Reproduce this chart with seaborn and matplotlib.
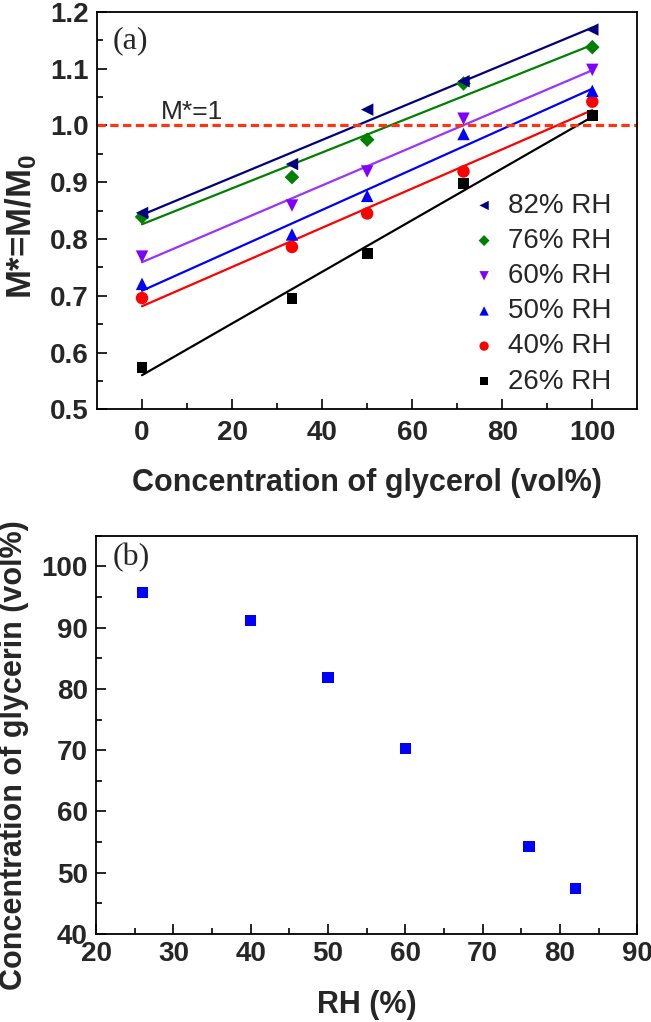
import numpy as np
import pandas as pd
import matplotlib
matplotlib.use("Agg")
import matplotlib.pyplot as plt
import seaborn as sns

# ---- data ----
glycerol = [0, 33.3, 50, 71.4, 100]
rh_labels = ["26% RH", "40% RH", "50% RH", "60% RH", "76% RH", "82% RH"]
m_26 = [0.574, 0.695, 0.775, 0.898, 1.018]
m_40 = [0.696, 0.786, 0.845, 0.919, 1.042]
m_50 = [0.721, 0.808, 0.876, 0.985, 1.061]
m_60 = [0.769, 0.859, 0.919, 1.012, 1.098]
m_76 = [0.839, 0.909, 0.975, 1.074, 1.138]
m_82 = [0.846, 0.932, 1.028, 1.078, 1.169]

rh_b = [26, 40, 50, 60, 76, 82]
glycerin_b = [95.8, 91.2, 81.9, 70.3, 54.3, 47.4]

series = [m_26, m_40, m_50, m_60, m_76, m_82]
marker_list = ["s", "o", "^", "v", "D", "<"]
marker_sizes = [60, 80, 80, 80, 55, 80]
point_colors = ["#000000", "#FF0000", "#0000FF", "#8000FF", "#008000", "#000080"]
line_colors = ["#000000", "#FF0000", "#0000FF", "#9933FF", "#008000", "#000080"]

sns.set_theme(style="ticks")
plt.rcParams["font.family"] = ["Liberation Sans", "DejaVu Sans"]
plt.rcParams["mathtext.default"] = "regular"
plt.rcParams["axes.linewidth"] = 1.3

fig = plt.figure(figsize=(6.51, 10.22), dpi=100)
ax1 = fig.add_axes([0.149, 0.5995, 0.830, 0.3888])
ax2 = fig.add_axes([0.1475, 0.0861, 0.8315, 0.3897])

# ---- panel (a) ----
handles = []
for vals, lab, mk, ms, pc, lc in zip(series, rh_labels, marker_list, marker_sizes,
                                      point_colors, line_colors):
    df = pd.DataFrame({"x": glycerol, "y": vals})
    slope, icpt = np.polyfit(df["x"], df["y"], 1)
    fit = pd.DataFrame({"x": [0, 100]})
    fit["y"] = icpt + slope * fit["x"]
    sns.lineplot(data=fit, x="x", y="y", ax=ax1, color=lc, lw=1.6, legend=False)
    sc = ax1.scatter(df["x"], df["y"], marker=mk, s=ms, color=pc, edgecolors="none",
                     label=lab, zorder=3)
    handles.append(sc)

ax1.axhline(1.0, color="#FF3311", lw=2.3, dashes=(2.6, 1.4), zorder=2)
ax1.text(4.2, 1.012, "M*=1", fontsize=19, va="baseline", ha="left")
ax1.text(0.029, 0.927, "(a)", transform=ax1.transAxes, fontsize=23, va="center",
         family=["Liberation Serif", "DejaVu Serif"])

ax1.set_xlim(-10, 110)
ax1.set_ylim(0.5, 1.2)
ax1.set_xticks([0, 20, 40, 60, 80, 100])
ax1.set_xticks([10, 30, 50, 70, 90], minor=True)
ax1.set_yticks([0.5, 0.6, 0.7, 0.8, 0.9, 1.0, 1.1, 1.2])
ax1.set_yticks([0.55, 0.65, 0.75, 0.85, 0.95, 1.05, 1.15], minor=True)
ax1.yaxis.set_major_formatter(matplotlib.ticker.FormatStrFormatter("%.1f"))
ax1.set_xlabel("Concentration of glycerol (vol%)", fontsize=22, fontweight="bold")
ax1.set_ylabel("M*=M/M$_0$", fontsize=25, fontweight="bold")
ax1.xaxis.set_label_coords(0.5, -0.148)
ax1.yaxis.set_label_coords(-0.14, 0.459)
ax1.yaxis.label.set_va("center")

leg = ax1.legend(handles=handles[::-1], loc="upper left", bbox_to_anchor=(0.665, 0.58),
                 frameon=False, fontsize=20, handletextpad=0.35, labelspacing=0.33,
                 markerscale=0.75, handlelength=1.0, borderpad=0)

# ---- panel (b) ----
dfb = pd.DataFrame({"RH": rh_b, "glycerin": glycerin_b})
sns.scatterplot(data=dfb, x="RH", y="glycerin", ax=ax2, marker="s", s=65,
                color="#0000FF", edgecolor="none", legend=False)
ax2.text(0.031, 0.945, "(b)", transform=ax2.transAxes, fontsize=23, va="center",
         family=["Liberation Serif", "DejaVu Serif"])
ax2.set_xlim(20, 90)
ax2.set_ylim(40, 105)
ax2.set_xticks(range(20, 91, 10))
ax2.set_xticks(range(25, 90, 10), minor=True)
ax2.set_yticks(range(40, 101, 10))
ax2.set_yticks(range(45, 106, 10), minor=True)
ax2.set_xlabel("RH (%)", fontsize=22, fontweight="bold")
ax2.set_ylabel("Concentration of glycerin (vol%)", fontsize=22, fontweight="bold")
ax2.xaxis.set_label_coords(0.5, -0.14)
ax2.yaxis.set_label_coords(-0.151, 0.449)
ax2.yaxis.label.set_va("center")

for ax, xpad in ((ax1, 8), (ax2, 5)):
    ax.tick_params(which="both", direction="in", top=False, right=False,
                   width=1.2, color="black")
    ax.tick_params(which="major", length=7)
    ax.tick_params(which="minor", length=4)
    ax.tick_params(axis="x", which="major", pad=xpad)
    ax.tick_params(axis="y", which="major", pad=6)
    for t in ax.get_xticklabels() + ax.get_yticklabels():
        t.set_fontsize(20)
        t.set_fontweight("bold")
    for sp in ax.spines.values():
        sp.set_color("black")
        sp.set_linewidth(1.3)

fig.savefig("out.png", dpi=100)
